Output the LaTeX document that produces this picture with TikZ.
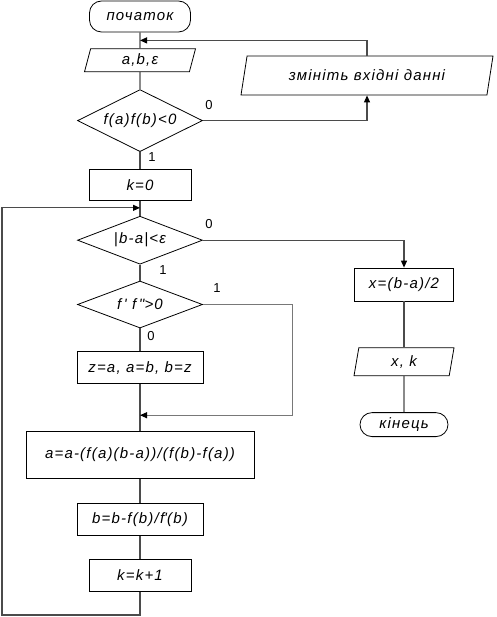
\documentclass[tikz,border=0pt]{standalone}
\usepackage{fontspec}
\setmainfont{Liberation Sans}
\usetikzlibrary{arrows.meta,positioning,shapes.geometric,calc}
\definecolor{linegray}{RGB}{75,75,75}
\definecolor{backgray}{RGB}{120,120,120}
\tikzset{
  block text/.style={font=\fontsize{15}{17}\selectfont\itshape\addfontfeature{LetterSpace=8}},
  terminal box/.style={
    rectangle, rounded corners=12pt, draw, line width=0.8pt,
    inner sep=2pt, block text
  },
  process box/.style={
    rectangle, draw, line width=0.8pt, inner sep=2pt, block text
  },
  io box/.style={
    trapezium, trapezium stretches body, draw, line width=0.8pt,
    inner sep=2pt, block text
  },
  decision box/.style={
    diamond, shape aspect=2.6, draw, line width=0.8pt,
    inner sep=0pt, block text
  },
  branch label/.style={font=\fontsize{13}{15}\selectfont, inner sep=0pt},
  flow line/.style={draw=linegray, line width=1.1pt},
  flow arrow/.style={flow line, -{Triangle[length=7pt,width=6pt,color=black]}},
  back arrow/.style={flow arrow, draw=backgray}
}

\begin{document}
\begin{tikzpicture}[x=1pt,y=-1pt]
    \useasboundingbox (0,0) rectangle (496,617);
    % main column
    \node[terminal box, minimum width=101pt, minimum height=31pt] (start) at (140,16.5) {початок};
    \node[io box, minimum width=111pt, minimum height=23pt,
      trapezium left angle=70, trapezium right angle=110, below=16pt of start] (input) {a,b,ε};
    \node[decision box, minimum width=125pt, minimum height=62pt, below=17pt of input] (sign ab) {f(a)f(b)<0};
    \node[process box, minimum width=102pt, minimum height=31pt, below=17pt of sign ab] (k zero) {k=0};
    \node[decision box, minimum width=125pt, minimum height=48pt, below=15pt of k zero] (eps test) {|b-a|<ε};
    \node[decision box, minimum width=125pt, minimum height=47pt, below=16pt of eps test] (deriv test) {f\,\textquotesingle{} f\,\textquotesingle\textquotesingle{}>0};
    \node[process box, minimum width=126pt, minimum height=32pt, below=23pt of deriv test] (swap) {z=a, a=b, b=z};
    \node[process box, minimum width=228pt, minimum height=47pt, below=47pt of swap] (chord) {a=a-(f(a)(b-a))/(f(b)-f(a))};
    \node[process box, minimum width=126pt, minimum height=32pt, below=24pt of chord] (tangent) {b=b-f(b)/f\textquotesingle(b)};
    \node[process box, minimum width=102pt, minimum height=32pt, below=23pt of tangent] (count) {k=k+1};
    % side branches
    \node[io box, minimum width=252pt, minimum height=39pt,
      trapezium left angle=68, trapezium right angle=112] (change) at (367,75.5) {змініть вхідні данні};
    \node[process box, minimum width=99pt, minimum height=33pt] (root) at (404,284.5) {x=(b-a)/2};
    \node[io box, minimum width=100pt, minimum height=28pt,
      trapezium left angle=74, trapezium right angle=106, below=46pt of root] (output) {x, k};
    \node[terminal box, minimum width=88pt, minimum height=24pt, below=36pt of output] (stop) {кінець};
    % branch labels
    \node[branch label] (sign ab no) at ($(sign ab.east)+(6,-16)$) {0};
    \node[branch label] (sign ab yes) at ($(sign ab.south)+(12,5)$) {1};
    \node[branch label] (eps no) at ($(eps test.east)+(6,-16)$) {0};
    \node[branch label] (eps yes) at ($(eps test.south)+(23,5)$) {1};
    \node[branch label] (deriv yes) at ($(deriv test.east)+(14,-16.5)$) {1};
    \node[branch label] (deriv no) at ($(deriv test.south)+(11,8)$) {0};
    % join points
    \coordinate (input join) at ($(start.south)!0.5!(input.north)$);
    \coordinate (loop join) at ($(k zero.south)!0.47!(eps test.north)$);
    \coordinate (chord join) at ($(swap.south)!0.66!(chord.north)$);
    \coordinate (loop corner) at (2,615);
    \coordinate (deriv turn) at ($(deriv test.east)+(90,0)$);
    % connectors
    \draw[flow line] (start) -- (input);
    \draw[flow line] (input) -- (sign ab);
    \draw[flow line] (sign ab) -- (k zero);
    \draw[flow line] (k zero) -- (eps test);
    \draw[flow line] (eps test) -- (deriv test);
    \draw[flow line] (deriv test) -- (swap);
    \draw[flow line] (swap) -- (chord);
    \draw[flow line] (chord) -- (tangent);
    \draw[flow line] (tangent) -- (count);
    \draw[flow line] (root) -- (output);
    \draw[flow line] (output) -- (stop);
    \draw[flow arrow] (sign ab.east) -| (change.south);
    \draw[flow arrow] (change.north) |- (input join);
    \draw[flow arrow] (eps test.east) -| (root.north);
    \draw[back arrow] (deriv test.east) -- (deriv turn) |- (chord join);
    \draw[flow arrow] (count.south) |- (loop corner) |- (loop join);
  \end{tikzpicture}
\end{document}
